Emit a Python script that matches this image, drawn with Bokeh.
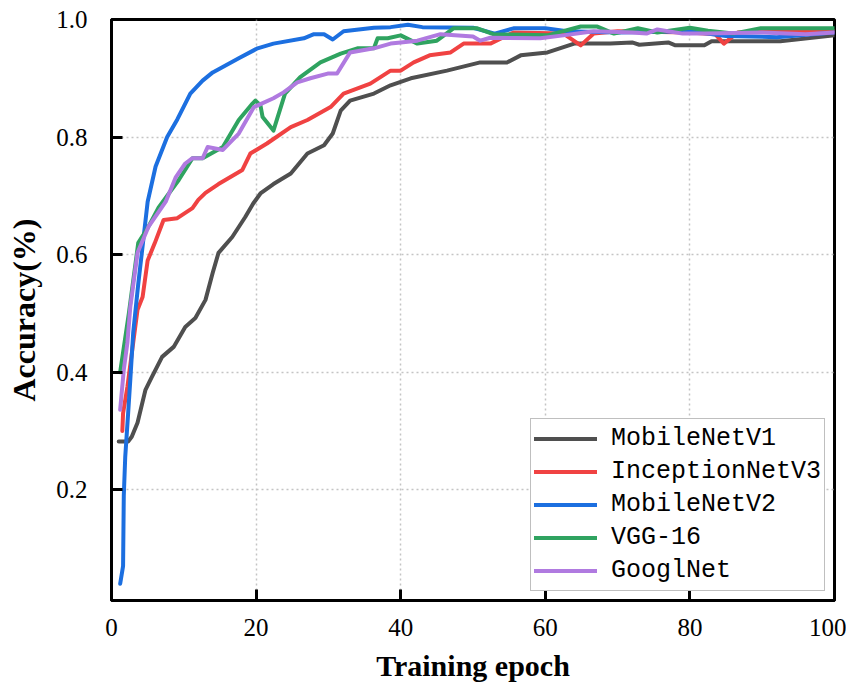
from bokeh.plotting import figure
from bokeh.models import Range1d, Legend, LegendItem, FixedTicker, PrintfTickFormatter
from bokeh.embed import file_html
from bokeh.resources import INLINE

# ---- data ----
ep_v1 = [1, 2.3, 2.8, 3.6, 4.7, 5.5, 7, 8.6, 10.2, 11.6, 13, 14, 14.8, 16.7, 18.5, 19.6, 20.6, 22.4, 24.8,
         27.1, 29.4, 30.6, 31.7, 33, 36.3, 38.6, 41.4, 46.4, 51, 54.7, 56.6, 60.3, 64, 69, 72, 73, 77, 78,
         82, 83, 92.5, 100]
acc_v1 = [0.282, 0.282, 0.29, 0.314, 0.37, 0.39, 0.426, 0.443, 0.477, 0.492, 0.523, 0.569, 0.603, 0.63,
          0.664, 0.687, 0.704, 0.72, 0.738, 0.772, 0.786, 0.806, 0.845, 0.862, 0.874, 0.888, 0.9, 0.913,
          0.927, 0.927, 0.939, 0.944, 0.959, 0.959, 0.961, 0.957, 0.961, 0.956, 0.956, 0.963, 0.963, 0.973]

ep_v3 = [1.5, 1.6, 2.2, 3.0, 3.6, 4.3, 5, 6, 7.2, 9.1, 11.2, 12, 13, 14.8, 18.1, 19.2, 21.5, 24.8, 27.1,
         30.3, 32.1, 35.8, 38.6, 40, 41.8, 44, 46.9, 48.7, 52.4, 55.6, 62.5, 64.9, 66.7, 70, 80, 83.5,
         84.7, 86.6, 90, 100]
acc_v3 = [0.30, 0.33, 0.375, 0.45, 0.506, 0.528, 0.59, 0.62, 0.659, 0.662, 0.679, 0.693, 0.705, 0.72,
          0.744, 0.772, 0.789, 0.817, 0.829, 0.851, 0.874, 0.891, 0.913, 0.913, 0.927, 0.939, 0.944,
          0.959, 0.959, 0.978, 0.976, 0.956, 0.976, 0.98, 0.978, 0.975, 0.959, 0.978, 0.98, 0.98]

ep_v2 = [1.2, 1.6, 1.7, 1.9, 2.3, 2.6, 3.0, 3.7, 4.4, 5.0, 6.1, 7.7, 9.1, 10.9, 12.6, 14, 17.6, 20.2,
         22.4, 26.6, 28, 29.4, 30.6, 32.1, 36.3, 38.6, 41, 43, 50, 53, 55.6, 60, 63, 70, 80, 85, 92, 100]
acc_v2 = [0.04, 0.07, 0.19, 0.256, 0.33, 0.387, 0.467, 0.55, 0.625, 0.69, 0.75, 0.80, 0.83, 0.874,
          0.896, 0.91, 0.934, 0.951, 0.959, 0.968, 0.975, 0.975, 0.966, 0.98, 0.986, 0.987, 0.991,
          0.987, 0.986, 0.976, 0.985, 0.985, 0.98, 0.978, 0.98, 0.972, 0.97, 0.978]

ep_vgg = [1.2, 2.4, 3.7, 5, 6.5, 9.3, 11.2, 12.6, 15.4, 17.6, 19.5, 19.9, 20.6, 20.9, 22.4, 24, 26.1,
          28.9, 31.7, 34, 36.3, 36.8, 38.2, 40, 42.3, 45, 47.3, 50.6, 52.8, 60.3, 64.9, 67.2, 69.5,
          72.8, 75.5, 80, 82.5, 86, 89.8, 100]
acc_vgg = [0.40, 0.50, 0.62, 0.645, 0.68, 0.727, 0.764, 0.764, 0.783, 0.829, 0.857, 0.862, 0.854,
           0.834, 0.811, 0.874, 0.902, 0.927, 0.942, 0.951, 0.951, 0.968, 0.968, 0.973, 0.959, 0.964,
           0.985, 0.985, 0.975, 0.973, 0.988, 0.988, 0.976, 0.985, 0.978, 0.986, 0.981, 0.976, 0.985,
           0.985]

ep_g = [1.2, 1.7, 2.2, 2.6, 3.6, 5.1, 7.5, 8.9, 10.2, 11.2, 12.6, 13.3, 15.4, 17.6, 19.7, 22.4, 23.8,
        25.7, 27.5, 29.9, 31.2, 33, 36.3, 38.6, 40, 42.3, 45.5, 50, 51, 52.4, 59.3, 62.5, 66.7, 72, 74,
        75.5, 79, 82, 90, 96, 100]
acc_g = [0.336, 0.404, 0.45, 0.511, 0.603, 0.647, 0.69, 0.732, 0.755, 0.764, 0.764, 0.783, 0.778,
         0.806, 0.851, 0.866, 0.876, 0.893, 0.9, 0.908, 0.908, 0.944, 0.951, 0.959, 0.961, 0.964, 0.975,
         0.971, 0.964, 0.969, 0.968, 0.973, 0.98, 0.978, 0.976, 0.983, 0.976, 0.976, 0.978, 0.975, 0.978]

names = ["MobileNetV1", "InceptionNetV3", "MobileNetV2", "VGG-16", "GooglNet"]
colors = ["#4f4f4f", "#f04242", "#1c6fe0", "#2fa360", "#b07ae0"]
x_ticks = [0, 20, 40, 60, 80, 100]
y_ticks = [0.2, 0.4, 0.6, 0.8, 1.0]

X_MIN, X_MAX = 0, 100
Y_MIN, Y_MAX = 0.0115, 1.0

SERIF = "Liberation Serif"

p = figure(width=846, height=684, output_backend="svg", toolbar_location=None,
           x_range=Range1d(X_MIN, X_MAX), y_range=Range1d(Y_MIN, Y_MAX),
           min_border_left=111, min_border_right=12, min_border_top=19, min_border_bottom=83)
p.background_fill_color = "white"
p.border_fill_color = "white"
p.outline_line_color = "black"
p.outline_line_width = 3

for g in (p.xgrid[0], p.ygrid[0]):
    g.grid_line_color = "#c4c4c4"
    g.grid_line_dash = "2 3"
    g.grid_line_width = 1.5
p.xgrid.ticker = FixedTicker(ticks=x_ticks)
p.ygrid.ticker = FixedTicker(ticks=y_ticks)

series = [(ep_v1, acc_v1), (ep_v3, acc_v3), (ep_v2, acc_v2), (ep_vgg, acc_vgg), (ep_g, acc_g)]
renderers = []
for (xs, ys), c in zip(series, colors):
    r = p.line(xs, ys, line_color=c, line_width=4, line_join="round", line_cap="round")
    renderers.append(r)

for ax in (p.xaxis[0], p.yaxis[0]):
    ax.axis_line_width = 3
    ax.axis_line_color = "black"
    ax.major_tick_in = 11
    ax.major_tick_out = 0
    ax.major_tick_line_width = 3
    ax.major_tick_line_color = "black"
    ax.minor_tick_line_color = None
    ax.major_label_text_font = SERIF
    ax.major_label_text_font_size = "25px"
    ax.major_label_text_color = "black"
    ax.axis_label_text_font = SERIF
    ax.axis_label_text_font_style = "bold"
    ax.axis_label_text_color = "black"

p.xaxis.axis_label_text_font_size = "30px"
p.yaxis.axis_label_text_font_size = "32px"
p.xaxis.ticker = FixedTicker(ticks=x_ticks)
p.yaxis.ticker = FixedTicker(ticks=y_ticks)
p.yaxis.formatter = PrintfTickFormatter(format="%.1f")
p.xaxis.axis_label = "Training epoch"
p.yaxis.axis_label = "Accuracy(%)"
p.xaxis.major_label_standoff = 18
p.yaxis.major_label_standoff = 24
p.xaxis.axis_label_standoff = 10
p.yaxis.axis_label_standoff = 11

legend = Legend(items=[LegendItem(label=n, renderers=[r]) for n, r in zip(names, renderers)],
                location=(419, 9))
legend.border_line_color = "#808080"
legend.border_line_width = 1.5
legend.background_fill_alpha = 1
legend.padding = 3
legend.spacing = 0
legend.margin = 0
legend.glyph_width = 63
legend.glyph_height = 33
legend.label_height = 33
legend.label_standoff = 14
legend.label_text_font = "Liberation Mono"
legend.label_text_font_size = "25px"
legend.label_text_color = "black"
p.add_layout(legend, "center")

open("out.html", "w").write(file_html(p, INLINE))
